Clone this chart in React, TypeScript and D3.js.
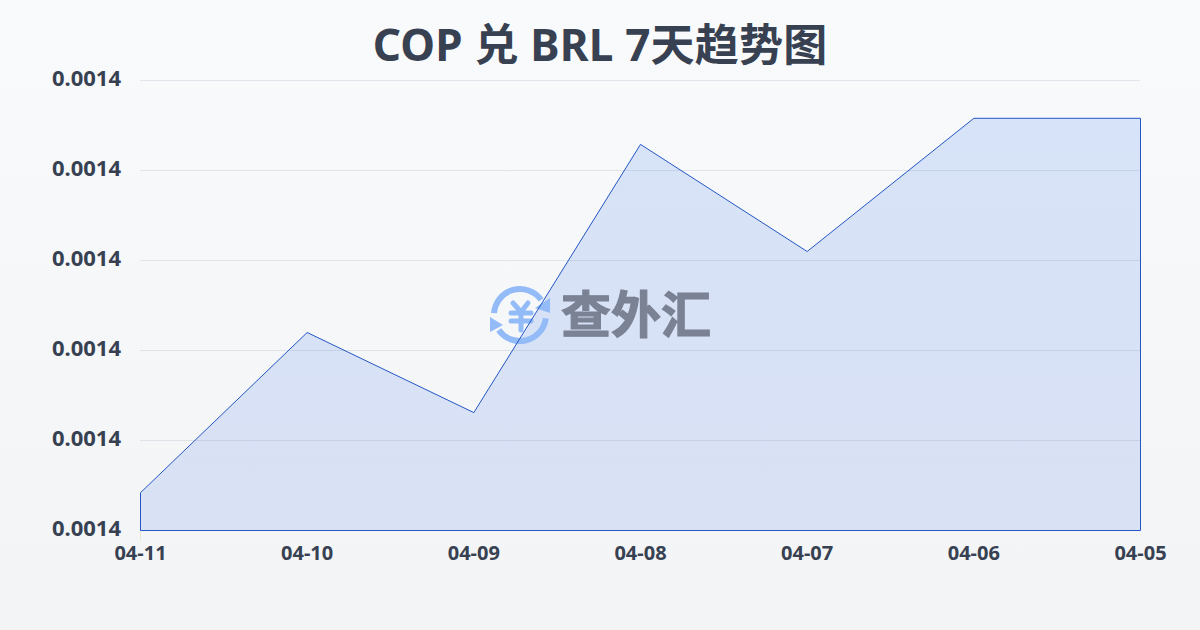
import React from "react";
import * as d3 from "d3";

const dates = ["04-11", "04-10", "04-09", "04-08", "04-07", "04-06", "04-05"];
const rates = [0.0013842, 0.001402, 0.0013931, 0.0014229, 0.001411, 0.0014258, 0.0014258];
const yTicks = [0.00138, 0.00139, 0.0014, 0.00141, 0.00142, 0.00143];
const titleText = "COP 兑 BRL 7天趋势图";
const logoText = "查外汇";

const W = 1200, H = 630;
const FONT = "'Noto Sans', 'Noto Sans CJK SC', sans-serif";

export default function App() {
  const x = d3.scalePoint<string>().domain(dates).range([140.5, 1140.5]);
  const y = d3.scaleLinear().domain([0.00138, 0.00143]).range([530.5, 80.5]);
  const line = d3.line<number>().x((_, i) => x(dates[i])!).y((d) => y(d));
  const area = d3.area<number>().x((_, i) => x(dates[i])!).y0(y(0.00138)).y1((d) => y(d));
  const fmt = d3.format(".4f");
  const outline = line(rates)! + `L${x(dates[6])},${y(0.00138)}L${x(dates[0])},${y(0.00138)}Z`;

  const cx = 520, cy = 315, r = 26;
  const arc = d3.arc();
  const arc1 = arc({ innerRadius: r - 3, outerRadius: r + 3, startAngle: -1.5, endAngle: 0.95 })!;
  const arc2 = arc({ innerRadius: r - 3, outerRadius: r + 3, startAngle: 1.7, endAngle: 4.1 })!;

  return (
    <svg width={W} height={H} style={{ position: "fixed", left: 0, top: 0, display: "block" }} xmlns="http://www.w3.org/2000/svg">
      <defs>
        <linearGradient id="bg" x1="0" y1="0" x2="0" y2="1">
          <stop offset="0" stopColor="#f8fafc" />
          <stop offset="1" stopColor="#f3f4f6" />
        </linearGradient>
        <linearGradient id="fill" x1="0" y1="0" x2="0" y2="1">
          <stop offset="0" stopColor="#d7e3f8" />
          <stop offset="1" stopColor="#d9e1f4" />
        </linearGradient>
      </defs>
      <rect width={W} height={H} fill="url(#bg)" />
      <text x={600} y={61} textAnchor="middle" fontFamily={FONT} fontWeight={700} fontSize={44} letterSpacing={0.2} fill="#374151">{titleText}</text>
      <path d={area(rates)!} fill="url(#fill)" />
      {yTicks.map((t) => (
        <g key={t}>
          <line x1={140} x2={1140} y1={y(t)} y2={y(t)} stroke="#1f3a6e" strokeOpacity={0.1} strokeWidth={1} />
          <text x={121} y={y(t) + 5.5} textAnchor="end" fontFamily={FONT} fontWeight={700} fontSize={22} fill="#374151">{fmt(t)}</text>
        </g>
      ))}
      {dates.map((d) => (
        <text key={d} x={x(d)} y={560} textAnchor="middle" fontFamily={FONT} fontWeight={700} fontSize={20} fill="#374151">{d}</text>
      ))}
      <line x1={140.5} x2={140.5} y1={531} y2={541} stroke="#e9e6da" strokeWidth={1} />
      <g>
        <g transform={`translate(${cx},${cy})`} fill="#93bbf8">
          <path d={arc1} />
          <path d={arc2} />
          <path d="M15,-7 L30,-17 L30,-2 Z" />
          <path d="M-30,2 L-17,10 L-30,17 Z" />
          <path d="M-7,-12 L1,-3 L8,-12 M-9,-2 L11,-2 M-9,6 L11,6 M1,-3 L1,15" fill="none" stroke="#93bbf8" strokeWidth={5} strokeLinecap="round" strokeLinejoin="round" />
        </g>
        <text x={636} y={333} textAnchor="middle" fontFamily="'Noto Sans CJK SC'" fontWeight={700} fontSize={50} fill="#7a8294" stroke="#7a8294" strokeWidth={1.2}>{logoText}</text>
      </g>
      <path d={outline} fill="none" stroke="#2456c4" strokeWidth={1} strokeLinejoin="miter" />
    </svg>
  );
}
